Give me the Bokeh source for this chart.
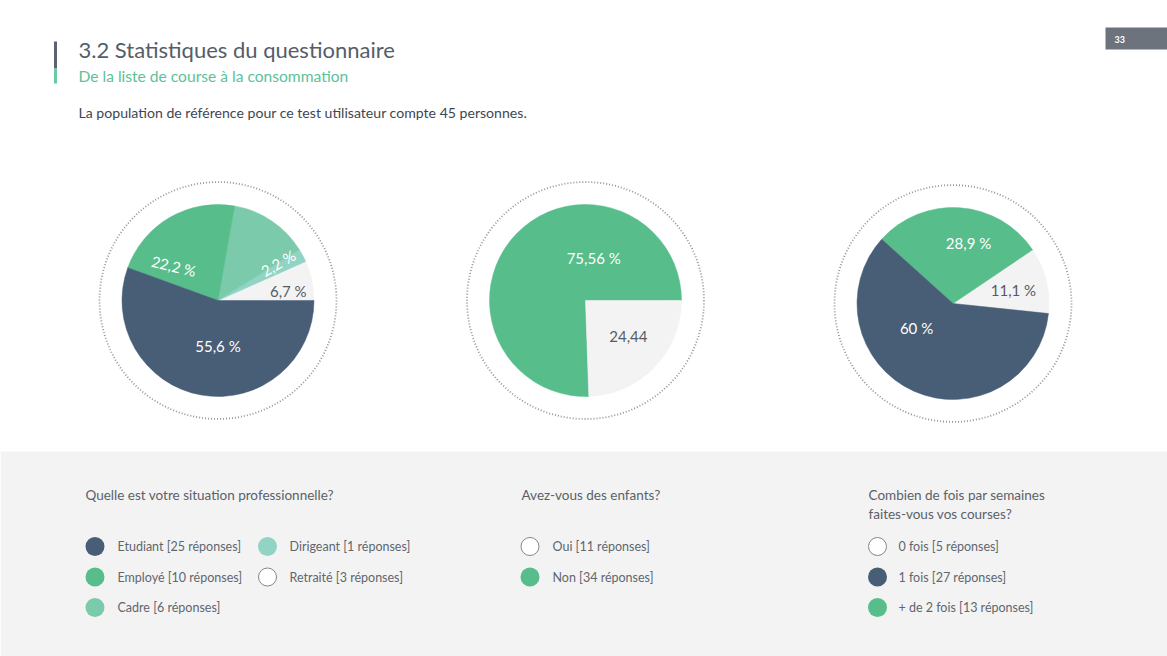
import math
from bokeh.plotting import figure
from bokeh.models import Range1d, ColumnDataSource
from bokeh.core.properties import value
from bokeh.embed import file_html
from bokeh.resources import INLINE

# ---------------- data ----------------
situation_labels = ["Etudiant", "Employé", "Cadre", "Dirigeant", "Retraité"]
situation_counts = [25, 10, 6, 1, 3]
situation_pct = ["55,6 %", "22,2 %", "", "2,2 %", "6,7 %"]

enfants_labels = ["Oui", "Non"]
enfants_counts = [11, 34]
enfants_pct = ["24,44", "75,56 %"]

courses_labels = ["0 fois", "1 fois", "+ de 2 fois"]
courses_counts = [5, 27, 13]
courses_pct = ["11,1 %", "60 %", "28,9 %"]

title = "3.2 Statistiques du questionnaire"
subtitle = "De la liste de course à la consommation"
intro = "La population de référence pour ce test utilisateur compte 45 personnes."
questions = [["Quelle est votre situation professionnelle?"],
             ["Avez-vous des enfants?"],
             ["Combien de fois par semaines", "faites-vous vos courses?"]]
page_number = "33"

# ---------------- styles / layout ----------------
FONT = "Lato"
DARK = "#485d76"
GREEN = "#57bd8b"
CADRE = "#7bcaab"
DIRIG = "#91d4c5"
LIGHT = "#f3f3f3"
W, H = 1167, 656
OFF = 0
PAGE_H = 656


def Y(py):
    return PAGE_H - py


p = figure(width=W, height=H, x_range=Range1d(OFF, OFF + W), y_range=Range1d(Y(OFF + H), Y(OFF)),
           output_backend="svg", toolbar_location=None, min_border=0)
p.axis.visible = False
p.grid.visible = False
p.outline_line_color = None
p.background_fill_color = "white"
p.border_fill_color = "white"

# grey band at the bottom
p.quad(left=[OFF], right=[OFF + W], top=[Y(451)], bottom=[Y(OFF + H)], fill_color=LIGHT, line_color=None)

# header bar
p.quad(left=[53.5], right=[56.5], top=[Y(41)], bottom=[Y(68)], fill_color="#5b636e", line_color=None)
p.quad(left=[53.5], right=[56.5], top=[Y(68)], bottom=[Y(83)], fill_color="#6cc9a5", line_color=None)
p.text(x=[78], y=[Y(49)], text=[title], text_font=value(FONT), text_font_size="22px",
       text_color="#555d67", text_baseline="middle", text_align="left")
p.text(x=[78], y=[Y(75)], text=[subtitle], text_font=value(FONT), text_font_size="15.6px",
       text_color="#5cc29a", text_baseline="middle", text_align="left")
p.text(x=[78], y=[Y(112)], text=[intro], text_font=value(FONT), text_font_size="14.1px",
       text_color="#3f4650", text_baseline="middle", text_align="left")

# page number box
p.quad(left=[1105], right=[OFF + W], top=[Y(27)], bottom=[Y(49)], fill_color="#6c737c", line_color=None)
p.text(x=[1114], y=[Y(38.5)], text=[page_number], text_font=value(FONT), text_font_size="9px",
       text_color="white", text_baseline="middle", text_align="left", text_font_style="bold")

# ---------------- pies ----------------
R = 96
R_DOT = 118.5
pies = [
    dict(cx=217.5, cy=300, counts=situation_counts, labels=situation_pct,
         colors=[DARK, GREEN, CADRE, DIRIG, LIGHT], order=[4, 3, 2, 1, 0], start=0.0,
         label_colors=["white", "white", "white", "white", "#555c66"],
         label_pos=[(270, 45), (142, 56), (0, 0), (32, 71), (8, 71)],
         label_rot=[0, -13.5, 0, 30, 0]),
    dict(cx=585, cy=300, counts=enfants_counts, labels=enfants_pct,
         colors=[LIGHT, GREEN], order=[1, 0], start=0.0,
         label_colors=["#555c66", "white"],
         label_pos=[(-40, 56), (79, 43)], label_rot=[0, 0]),
    dict(cx=952.5, cy=303, counts=courses_counts, labels=courses_pct,
         colors=[LIGHT, DARK, GREEN], order=[0, 2, 1], start=-6.0,
         label_colors=["#555c66", "white", "white"],
         label_pos=[(13, 62), (214, 44), (75.5, 62)], label_rot=[0, 0, 0]),
]

for pie in pies:
    total = float(sum(pie["counts"]))
    starts, ends, cols = [], [], []
    a = math.radians(pie["start"])
    for i in pie["order"]:
        span = 2 * math.pi * pie["counts"][i] / total
        starts.append(a)
        ends.append(a + span)
        cols.append(pie["colors"][i])
        a += span
    cx, cy = pie["cx"], Y(pie["cy"])
    p.circle(x=[cx], y=[cy], radius=R_DOT, fill_color=None, line_color="#8e959e",
             line_width=1.8, line_dash="1 2")
    src = ColumnDataSource(dict(s=starts, e=ends, c=cols))
    p.wedge(x=cx, y=cy, radius=R, start_angle="s", end_angle="e", fill_color="c",
            line_color="c", line_width=0.5, source=src)
    lx, ly, lt, lc, lr = [], [], [], [], []
    for i, lab in enumerate(pie["labels"]):
        if not lab:
            continue
        ang, rr = pie["label_pos"][i]
        lx.append(cx + rr * math.cos(math.radians(ang)))
        ly.append(cy + rr * math.sin(math.radians(ang)))
        lt.append(lab)
        lc.append(pie["label_colors"][i])
        lr.append(math.radians(pie["label_rot"][i]))
    lsrc = ColumnDataSource(dict(x=lx, y=ly, t=lt, c=lc, r=lr))
    p.text(x="x", y="y", text="t", angle="r", text_color="c", source=lsrc,
           text_font=value(FONT), text_font_size="15px", text_align="center",
           text_baseline="middle")

# ---------------- legends ----------------
def legend_text(lbl, cnt):
    return f"{lbl} [{cnt} réponses]"


q_x = [85, 521, 868]
for qi, lines in enumerate(questions):
    for li, line in enumerate(lines):
        p.text(x=[q_x[qi]], y=[Y(494 + 19.5 * li)], text=[line], text_font=value(FONT),
               text_font_size="13.5px", text_color="#5a6169", text_baseline="middle",
               text_align="left")

ROW0, ROW_STEP = 546, 30.5
legend_groups = [
    (situation_labels, situation_counts, [DARK, GREEN, CADRE, DIRIG, None],
     [(0, 0), (0, 1), (0, 2), (1, 0), (1, 1)], [94.5, 267], [117, 289]),
    (enfants_labels, enfants_counts, [None, GREEN], [(0, 0), (0, 1)], [529.5], [552]),
    (courses_labels, courses_counts, [None, DARK, GREEN], [(0, 0), (0, 1), (0, 2)], [877], [898]),
]
for labels, counts, colors, slots, cxs, txs in legend_groups:
    for lbl, cnt, col, (ci, ri) in zip(labels, counts, colors, slots):
        yy = Y(ROW0 + ROW_STEP * ri)
        if col is None:
            p.scatter(x=[cxs[ci]], y=[yy], size=18, marker="circle", fill_color="white",
                      line_color="#7f8790", line_width=1)
        else:
            p.scatter(x=[cxs[ci]], y=[yy], size=19, marker="circle", fill_color=col,
                      line_color=None)
        p.text(x=[txs[ci]], y=[yy], text=[legend_text(lbl, cnt)], text_font=value(FONT),
               text_font_size="12.5px", text_color="#5f666e", text_baseline="middle",
               text_align="left")

open("out.html", "w").write(file_html(p, INLINE))
